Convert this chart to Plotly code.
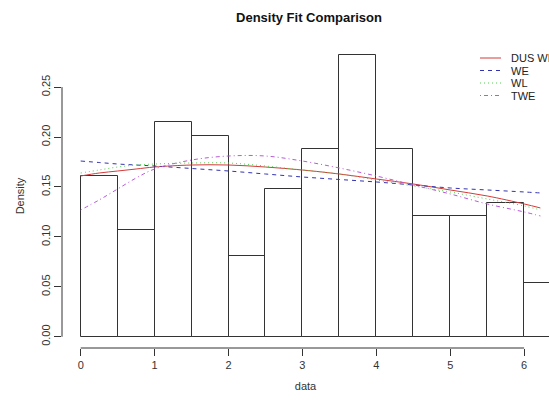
import plotly.graph_objects as go

# ---- data ----
bin_edges = [0, 0.5, 1, 1.5, 2, 2.5, 3, 3.5, 4, 4.5, 5, 5.5, 6, 6.5]
hist_density = [0.161, 0.107, 0.215, 0.201, 0.081, 0.148, 0.188, 0.282, 0.188, 0.121, 0.121, 0.134, 0.054]

curve_x = [0, 0.25, 0.5, 0.75, 1, 1.5, 2, 2.5, 3, 3.5, 4, 4.5, 5, 5.5, 6, 6.22]
dus_we = [0.161, 0.164, 0.166, 0.168, 0.170, 0.172, 0.172, 0.170, 0.167, 0.163, 0.158, 0.153, 0.147, 0.141, 0.133, 0.129]
we     = [0.176, 0.1745, 0.173, 0.172, 0.171, 0.1685, 0.166, 0.163, 0.160, 0.1575, 0.155, 0.152, 0.149, 0.147, 0.145, 0.144]
wl     = [0.164, 0.167, 0.170, 0.172, 0.173, 0.174, 0.174, 0.171, 0.167, 0.163, 0.157, 0.151, 0.145, 0.138, 0.131, 0.127]
twe    = [0.127, 0.137, 0.148, 0.159, 0.168, 0.177, 0.181, 0.181, 0.176, 0.169, 0.161, 0.152, 0.143, 0.133, 0.125, 0.121]

series_names = ["DUS WE", "WE", "WL", "TWE"]
series_vals = [dus_we, we, wl, twe]
series_colors = ["#d63a3a", "#3333b0", "#4fcf4f", "#b95ad8"]
series_dash = ["solid", "4px,4px", "1px,3px", "1px,3px,4px,3px"]

y_ticks = [0.00, 0.05, 0.10, 0.15, 0.20, 0.25]
x_ticks = [0, 1, 2, 3, 4, 5, 6]

FONT = "Liberation Sans, Arial, sans-serif"
W, H = 549, 400
ML, MR, MT, MB = 62, 0, 44, 52
PW = W - ML - MR
PH = H - MT - MB

def px_x(p):
    return (p - ML) / PW

def px_y(p):
    return (H - MB - p) / PH

fig = go.Figure()

centers = [(bin_edges[i] + bin_edges[i + 1]) / 2 for i in range(len(hist_density))]
widths = [bin_edges[i + 1] - bin_edges[i] for i in range(len(hist_density))]
fig.add_trace(go.Bar(
    x=centers, y=hist_density, width=widths,
    marker=dict(color="rgba(255,255,255,0)", line=dict(color="#333333", width=1)),
    showlegend=False, hoverinfo="skip",
))

for name, vals, col, dash in zip(series_names, series_vals, series_colors, series_dash):
    fig.add_trace(go.Scatter(
        x=curve_x, y=vals, mode="lines", name=name,
        line=dict(color=col, width=1, dash=dash, shape="spline"),
        showlegend=False,
    ))

shapes = [
    # R-style axis lines
    dict(type="line", xref="x", yref="paper", x0=0, x1=6, y0=0, y1=0,
         line=dict(color="#333333", width=1)),
    dict(type="line", xref="paper", yref="y", x0=0, x1=0, y0=0, y1=0.25,
         line=dict(color="#333333", width=1)),
]
annotations = []
leg_y = [58, 70.5, 83, 95.5]
for name, col, dash, ly in zip(series_names, series_colors, series_dash, leg_y):
    shapes.append(dict(type="line", xref="paper", yref="paper",
                       x0=px_x(480), x1=px_x(501), y0=px_y(ly), y1=px_y(ly),
                       line=dict(color=col, width=1, dash=dash)))
    annotations.append(dict(text=name, xref="paper", yref="paper",
                            x=px_x(509), y=px_y(ly), xanchor="left", yanchor="middle",
                            showarrow=False, font=dict(family=FONT, size=11, color="#222222")))

fig.update_layout(
    width=W, height=H,
    margin=dict(l=ML, r=MR, t=MT, b=MB),
    paper_bgcolor="white", plot_bgcolor="white",
    title=dict(text="<b>Density Fit Comparison</b>", x=px_x(309), xref="paper",
               y=1 - 17 / H, yref="container", xanchor="center", yanchor="middle",
               font=dict(family=FONT, size=13, color="#111111")),
    bargap=0,
    shapes=shapes,
    annotations=annotations,
    font=dict(family=FONT, size=11, color="#333333"),
)
fig.update_xaxes(
    automargin=False,
    range=[(ML - 80.7) / 73.9, (W - 80.7) / 73.9],
    showgrid=False, zeroline=False, showline=False,
    ticks="outside", ticklen=7, tickcolor="#333333",
    tickvals=x_ticks, ticktext=[str(v) for v in x_ticks],
    tickfont=dict(family=FONT, size=11, color="#333333"),
    title=dict(text="data", standoff=12, font=dict(family=FONT, size=11, color="#333333")),
)
fig.update_yaxes(
    automargin=False,
    range=[-0.01128, 0.2932],
    showgrid=False, zeroline=False, showline=False,
    ticks="outside", ticklen=7, tickcolor="#333333",
    tickvals=y_ticks, ticktext=["%.2f" % v for v in y_ticks],
    tickangle=-90,
    tickfont=dict(family=FONT, size=11, color="#333333"),
    title=dict(text="Density", standoff=12, font=dict(family=FONT, size=11, color="#333333")),
)

fig.write_html("out.html", config={"displayModeBar": False},
               post_script="document.body.style.margin='0';document.body.style.overflow='hidden';")
